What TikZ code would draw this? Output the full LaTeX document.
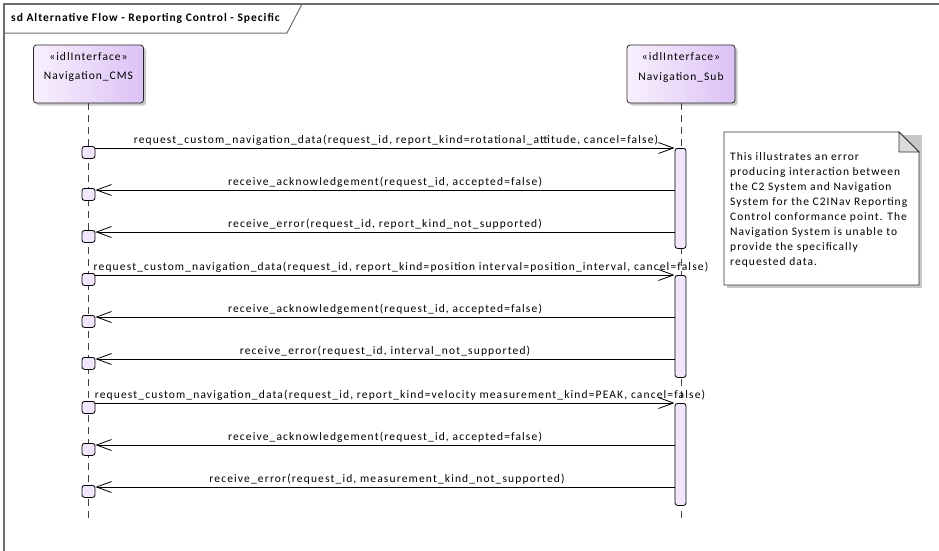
\documentclass[tikz,border=0pt]{standalone}
\usepackage{fontspec}
\setmainfont{Carlito}
\newfontfamily\lblfont[LetterSpace=10]{Carlito}
\newfontfamily\notefont[LetterSpace=9]{Carlito}
\newfontfamily\headfont[LetterSpace=9]{Carlito}
\newfontfamily\titlefont[LetterSpace=8.5]{Carlito}
\usetikzlibrary{arrows.meta,shadows}
\definecolor{lavA}{HTML}{F8F0FD}
\definecolor{lavB}{HTML}{DCC2F5}
\definecolor{actfill}{HTML}{F1E6FC}
\definecolor{framegray}{HTML}{6E6E6E}
\definecolor{notefold}{HTML}{DCDCDC}
\definecolor{shadowgray}{HTML}{C8C8C8}
\begin{document}
\begin{tikzpicture}[x=1pt,y=-1pt,
  lifebox/.style={draw=black!85, line width=0.8pt, rounded corners=3pt,
    minimum width=#1, minimum height=58pt, inner sep=0pt,
    left color=lavA, right color=lavB,
    drop shadow={shadow xshift=2.5pt, shadow yshift=-2.5pt, fill=shadowgray, opacity=1}},
  lbltext/.style={inner sep=0pt, font=\headfont\fontsize{11.5}{14}\selectfont},
  lifeline/.style={draw=black!75, line width=0.9pt, dash pattern=on 7pt off 5pt},
  actbar/.style={draw=black, line width=0.8pt, fill=actfill, rounded corners=2.5pt,
    minimum width=11pt, minimum height=#1, inner sep=0pt, anchor=north},
  execbox/.style={draw=black, line width=0.8pt, fill=actfill, rounded corners=2.5pt,
    minimum width=13pt, minimum height=12pt, inner sep=0pt, anchor=north},
  msg/.style={draw=black, line width=0.8pt, -{Straight Barb[length=15pt,width=11pt,line width=0.8pt]}},
  msglbl/.style={inner sep=0pt, anchor=base, font=\lblfont\fontsize{11.5}{14}\selectfont},
  notetext/.style={inner sep=0pt, anchor=north west, align=left, font=\notefont\fontsize{11.5}{15}\selectfont}
]
\useasboundingbox (0,0) rectangle (939,550);
\fill[white] (0,0) rectangle (939,550);

% frame
\coordinate (frBL) at (4,560);
\coordinate (frTL) at (4,4);
\coordinate (frTR) at (945,4);
\draw[framegray, line width=1.2pt] (frBL) -- (frTL) -- (frTR);
\coordinate (tabA) at (4,33);
\coordinate (tabB) at (287,33);
\coordinate (tabC) at (302,4);
\draw[framegray, line width=1pt] (tabA) -- (tabB) -- (tabC);
\node[inner sep=0pt, anchor=base west, font=\titlefont\fontsize{11.5}{13}\selectfont\bfseries] (title) at (11,21.5) {sd Alternative Flow - Reporting Control - Specific};

% lifeline heads
\node[lifebox=110pt] (cms) at (88.5,74) {};
\node[lbltext] (cmsst) at (88.5,57) {«idlInterface»};
\node[lbltext] (cmsname) at (88.5,77) {Navigation\_CMS};
\node[lifebox=108pt] (sub) at (681,74) {};
\node[lbltext] (subst) at (681,57) {«idlInterface»};
\node[lbltext] (subname) at (681,77) {Navigation\_Sub};

% lifelines
\coordinate (cmsend) at (88.5,523);
\coordinate (subend) at (681,523);
\draw[lifeline] (cms.south) -- (cmsend);
\draw[lifeline] (sub.south) -- (subend);

% activation bars
\node[actbar=100pt] (act1) at (680.5,148) {};
\node[actbar=102pt] (act2) at (680.5,275) {};
\node[actbar=102pt] (act3) at (680.5,403) {};

% message levels
\coordinate (y1) at (0,148);
\coordinate (y2) at (0,190);
\coordinate (y3) at (0,232);
\coordinate (y4) at (0,275);
\coordinate (y5) at (0,317);
\coordinate (y6) at (0,359);
\coordinate (y7) at (0,403);
\coordinate (y8) at (0,445);
\coordinate (y9) at (0,487);

% exec boxes on CMS
\foreach \i/\yy in {1/148,2/190,3/232,4/275,5/317,6/359,7/403,8/445,9/487}{
  \node[execbox] (e\i) at (88.5,\yy-2) {};
}

% messages
\draw[msg] (e1.east |- y1) -- (act1.west |- y1);
\draw[msg] (act1.west |- y2) -- (e2.east |- y2);
\draw[msg] (act1.west |- y3) -- (e3.east |- y3);
\draw[msg] (e4.east |- y4) -- (act2.west |- y4);
\draw[msg] (act2.west |- y5) -- (e5.east |- y5);
\draw[msg] (act2.west |- y6) -- (e6.east |- y6);
\draw[msg] (e7.east |- y7) -- (act3.west |- y7);
\draw[msg] (act3.west |- y8) -- (e8.east |- y8);
\draw[msg] (act3.west |- y9) -- (e9.east |- y9);

% labels
\node[msglbl] (l1) at (396,143) {request\_custom\_navigation\_data(request\_id, report\_kind=rotational\_attitude, cancel=false)};
\node[msglbl] (l2) at (385,185.5) {receive\_acknowledgement(request\_id, accepted=false)};
\node[msglbl] (l3) at (385,227.5) {receive\_error(request\_id, report\_kind\_not\_supported)};
\node[msglbl] (l4) at (401,270) {request\_custom\_navigation\_data(request\_id, report\_kind=position interval=position\_interval, cancel=false)};
\node[msglbl] (l5) at (385,312.5) {receive\_acknowledgement(request\_id, accepted=false)};
\node[msglbl] (l6) at (385,354.5) {receive\_error(request\_id, interval\_not\_supported)};
\node[msglbl] (l7) at (400,398) {request\_custom\_navigation\_data(request\_id, report\_kind=velocity measurement\_kind=PEAK, cancel=false)};
\node[msglbl] (l8) at (385,440.5) {receive\_acknowledgement(request\_id, accepted=false)};
\node[msglbl] (l9) at (387,482.5) {receive\_error(request\_id, measurement\_kind\_not\_supported)};

% note
\fill[shadowgray] (727,135) -- (922,135) -- (922,288) -- (727,288) -- cycle;
\draw[black!80, line width=0.8pt, fill=white] (724,132) -- (899,132) -- (919,152) -- (919,285) -- (724,285) -- cycle;
\draw[black!80, line width=0.8pt, fill=notefold] (899,132) -- (899,152) -- (919,152) -- cycle;
\node[notetext] (note) at (730,152) {This illustrates an error\\producing interaction between\\the C2 System and Navigation\\System for the C2INav Reporting\\Control conformance point. The\\Navigation System is unable to\\provide the specifically\\requested data.};
\end{tikzpicture}
\end{document}
